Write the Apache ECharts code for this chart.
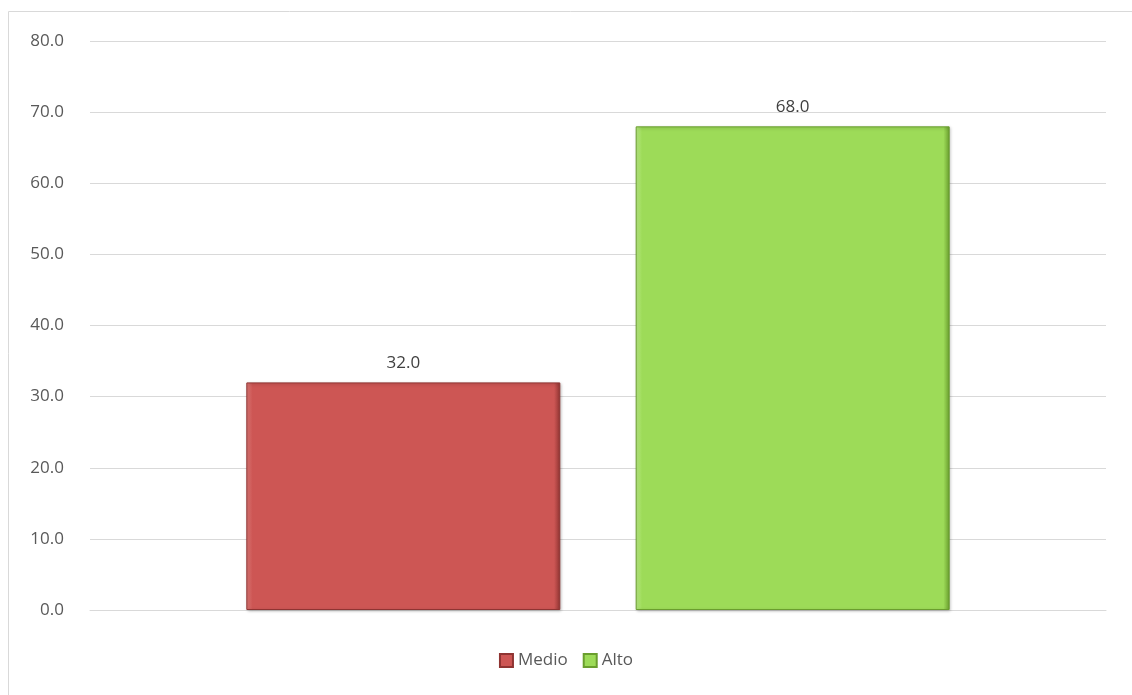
<!DOCTYPE html>
<html>
<head>
<meta charset="utf-8">
<script src="https://cdn.jsdelivr.net/npm/echarts@6/dist/echarts.min.js"></script>
<style>
  html, body { margin: 0; padding: 0; background: #fff; }
  #chart { width: 1132px; height: 695px; }
</style>
</head>
<body>
<div id="chart"></div>
<script>
// datos
const categories = [''];
const seriesNames = ['Medio', 'Alto'];
const medio = [32.0];
const alto = [68.0];
const yTicks = { min: 0, max: 80, interval: 10 };

const chart = echarts.init(document.getElementById('chart'));

// bisel tipo excel
function bevel(base, light, dark) {
  return {
    color: {
      type: 'linear', x: 0, y: 0, x2: 1, y2: 0,
      colorStops: [
        { offset: 0, color: light },
        { offset: 0.02, color: base },
        { offset: 0.98, color: base },
        { offset: 1, color: dark }
      ]
    },
    borderColor: dark,
    borderWidth: 1,
    shadowColor: 'rgba(0,0,0,0.25)',
    shadowBlur: 3,
    shadowOffsetX: 1,
    shadowOffsetY: 1
  };
}

const labelStyle = {
  show: true,
  position: 'top',
  distance: 11,
  color: '#404040',
  fontSize: 17,
  fontFamily: 'Open Sans',
  formatter: p => p.value.toFixed(1)
};

chart.setOption({
  animation: false,
  textStyle: { fontFamily: 'Open Sans' },
  graphic: [{
    type: 'rect',
    shape: { x: 8.5, y: 11.5, width: 1140, height: 700 },
    style: { fill: 'none', stroke: '#d9d9d9', lineWidth: 1 },
    silent: true
  }],
  grid: { left: 90, right: 26, top: 41, bottom: 85 },
  legend: {
    bottom: 21,
    left: 'center',
    itemWidth: 13,
    itemHeight: 13,
    itemGap: 15,
    icon: 'rect',
    textStyle: { color: '#595959', fontSize: 17, fontFamily: 'Open Sans' },
    data: seriesNames
  },
  xAxis: {
    type: 'category',
    data: categories,
    axisLine: { lineStyle: { color: '#d9d9d9' } },
    axisTick: { show: false },
    axisLabel: { show: false }
  },
  yAxis: {
    type: 'value',
    min: yTicks.min,
    max: yTicks.max,
    interval: yTicks.interval,
    axisLine: { show: false },
    axisTick: { show: false },
    axisLabel: {
      color: '#595959',
      fontSize: 17,
      margin: 26,
      formatter: v => v.toFixed(1)
    },
    splitLine: { lineStyle: { color: '#d9d9d9' } }
  },
  series: [
    {
      name: seriesNames[0],
      type: 'bar',
      data: medio,
      barWidth: 314,
      barGap: '24%',
      itemStyle: bevel('#CD5654', '#e07b78', '#8f3432'),
      label: labelStyle
    },
    {
      name: seriesNames[1],
      type: 'bar',
      data: alto,
      barWidth: 314,
      itemStyle: bevel('#9DDB58', '#bff08a', '#6a9e2e'),
      label: labelStyle
    }
  ]
});
</script>
</body>
</html>
